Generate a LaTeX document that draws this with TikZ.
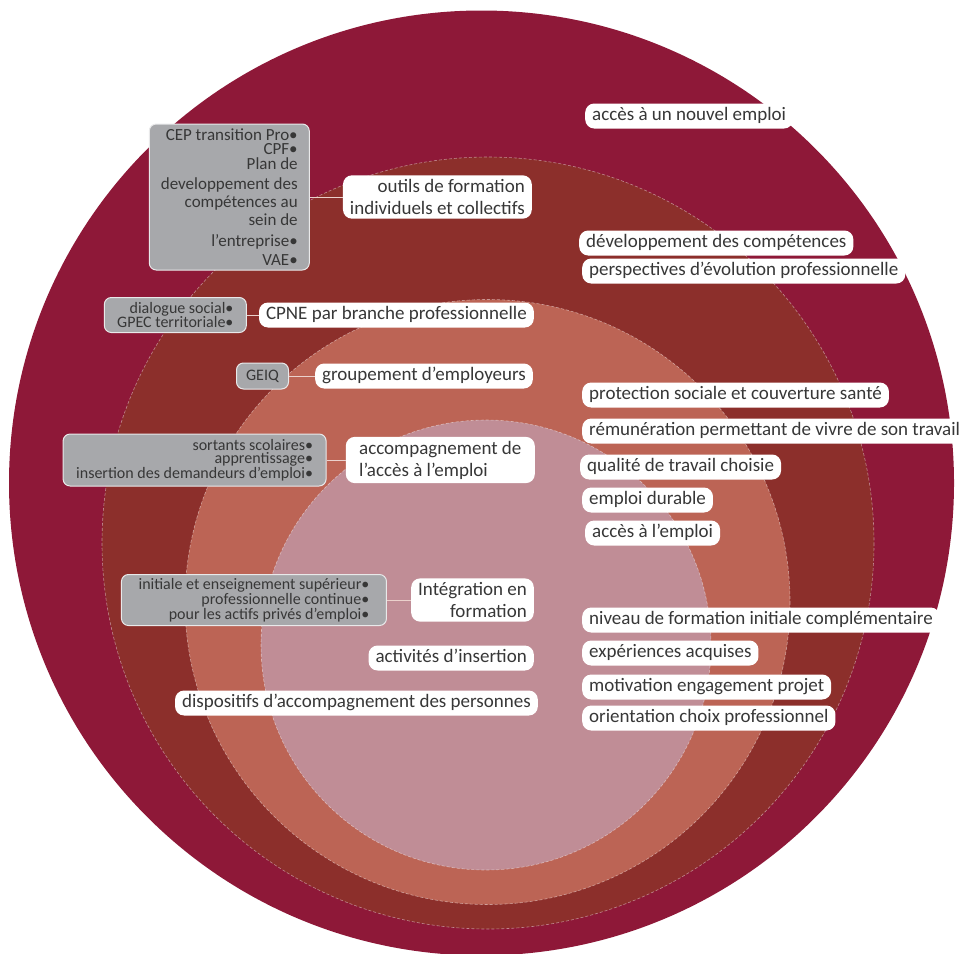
\documentclass[tikz,border=0pt]{standalone}
\usepackage{fontspec}
\setmainfont{Carlito}
\usetikzlibrary{positioning}
\definecolor{outercolor}{RGB}{142, 24, 56}
\definecolor{secondcolor}{RGB}{140, 47, 43}
\definecolor{thirdcolor}{RGB}{188, 100, 85}
\definecolor{innercolor}{RGB}{192, 141, 150}
\definecolor{boxgray}{RGB}{167, 168, 171}
\definecolor{textgray}{RGB}{55, 55, 55}

\begin{document}
\begin{tikzpicture}[x=1pt, y=-1pt,
    whitebox/.style={fill=white, rounded corners=9pt, text=textgray,
        font=\fontsize{19}{22}\selectfont, inner xsep=7pt, inner ysep=4pt},
    oneline/.style={whitebox, text height=13pt, text depth=4pt},
    graybox/.style={fill=boxgray, draw=white!75!boxgray, line width=1pt,
        rounded corners=7pt, text=textgray, align=right, inner xsep=5pt,
        font=\fontsize{16}{13.5}\selectfont},
    link/.style={draw=white!70!thirdcolor, line width=1pt},
    ring/.style={draw=white, draw opacity=0.45, line width=0.6pt,
        dash pattern=on 3pt off 2pt}]

        \useasboundingbox (0, 0) rectangle (965, 953);

        % Draw circles
        \coordinate (C1) at (481.5, 483);
        \coordinate (C2) at (488, 543);
        \coordinate (C3) at (487.5, 602);
        \coordinate (C4) at (486, 645);
        \fill[outercolor] (C1) circle (472.5);
        \fill[secondcolor] (C2) circle (386);
        \draw[ring] (C2) circle (386);
        \fill[thirdcolor] (C3) circle (302.5);
        \draw[ring] (C3) circle (302.5);
        \fill[innercolor] (C4) circle (225);
        \draw[ring] (C4) circle (225);

        % Left labels
        \node[whitebox, anchor=east, align=right] (outils) at (532, 197)
            {outils de formation\\individuels et collectifs};
        \node[oneline, anchor=east] (cpne) at (534, 315) {CPNE par branche professionnelle};
        \node[oneline, anchor=east] (groupement) at (533, 376) {groupement d’employeurs};
        \node[whitebox, anchor=east, align=left, minimum width=189pt] (accompagnement) at (535, 460)
            {accompagnement de\\l’accès à l’emploi};
        \node[whitebox, anchor=east, align=right] (integration) at (534, 600)
            {Intégration en\\formation};
        \node[oneline, anchor=east] (activites) at (534, 658) {activités d’insertion};
        \node[oneline, anchor=east] (dispositifs) at (538, 703) {dispositifs d’accompagnement des personnes};

        % Gray boxes
        \node[graybox, left=33pt of outils, minimum width=160pt, minimum height=146pt,
            font=\fontsize{17}{19}\selectfont] (cep)
            {CEP transition Pro•\\[-5pt] CPF•\\[-4.5pt] Plan de\\[1pt] developpement des\\[-1pt]
             compétences au\\[-1pt] sein de\\[2pt] l’entreprise•\\ VAE•};
        \node[graybox, left=12pt of cpne, minimum width=142pt, minimum height=35pt] (dialogue)
            {dialogue social•\\GPEC territoriale•};
        \node[graybox, left=26pt of groupement, minimum width=52pt, minimum height=26pt] (geiq)
            {GEIQ};
        \node[graybox, left=19pt of accompagnement, minimum width=263pt, minimum height=52pt] (sortants)
            {sortants scolaires•\\apprentissage•\\insertion des demandeurs d’emploi•};
        \node[graybox, left=24pt of integration, minimum width=265pt, minimum height=51pt] (initiale)
            {initiale et enseignement supérieur•\\professionnelle continue•\\pour les actifs privés d’emploi•};

        % Connectors
        \draw[link] (cep) -- (outils);
        \draw[link] (dialogue) -- (cpne);
        \draw[link] (geiq) -- (groupement);
        \draw[link] (sortants) -- (accompagnement);
        \draw[link] (initiale) -- (integration);

        % Right labels
        \node[oneline, anchor=west] (nouvel) at (585, 116) {accès à un nouvel emploi};
        \node[oneline, anchor=west] (competences) at (579, 243) {développement des compétences};
        \node[oneline, anchor=west] (perspectives) at (582, 271) {perspectives d’évolution professionnelle};
        \node[oneline, anchor=west] (protection) at (582, 395) {protection sociale et couverture santé};
        \node[oneline, anchor=west] (remuneration) at (582, 431) {rémunération permettant de vivre de son travail};
        \node[oneline, anchor=west] (qualite) at (580, 467) {qualité de travail choisie};
        \node[oneline, anchor=west] (durable) at (582, 500) {emploi durable};
        \node[oneline, anchor=west] (acces) at (585, 533) {accès à l’emploi};
        \node[oneline, anchor=west] (niveau) at (582, 620) {niveau de formation initiale complémentaire};
        \node[oneline, anchor=west] (experiences) at (582, 653) {expériences acquises};
        \node[oneline, anchor=west] (motivation) at (582, 687) {motivation engagement projet};
        \node[oneline, anchor=west] (orientation) at (582, 718) {orientation choix professionnel};
    \end{tikzpicture}
\end{document}
